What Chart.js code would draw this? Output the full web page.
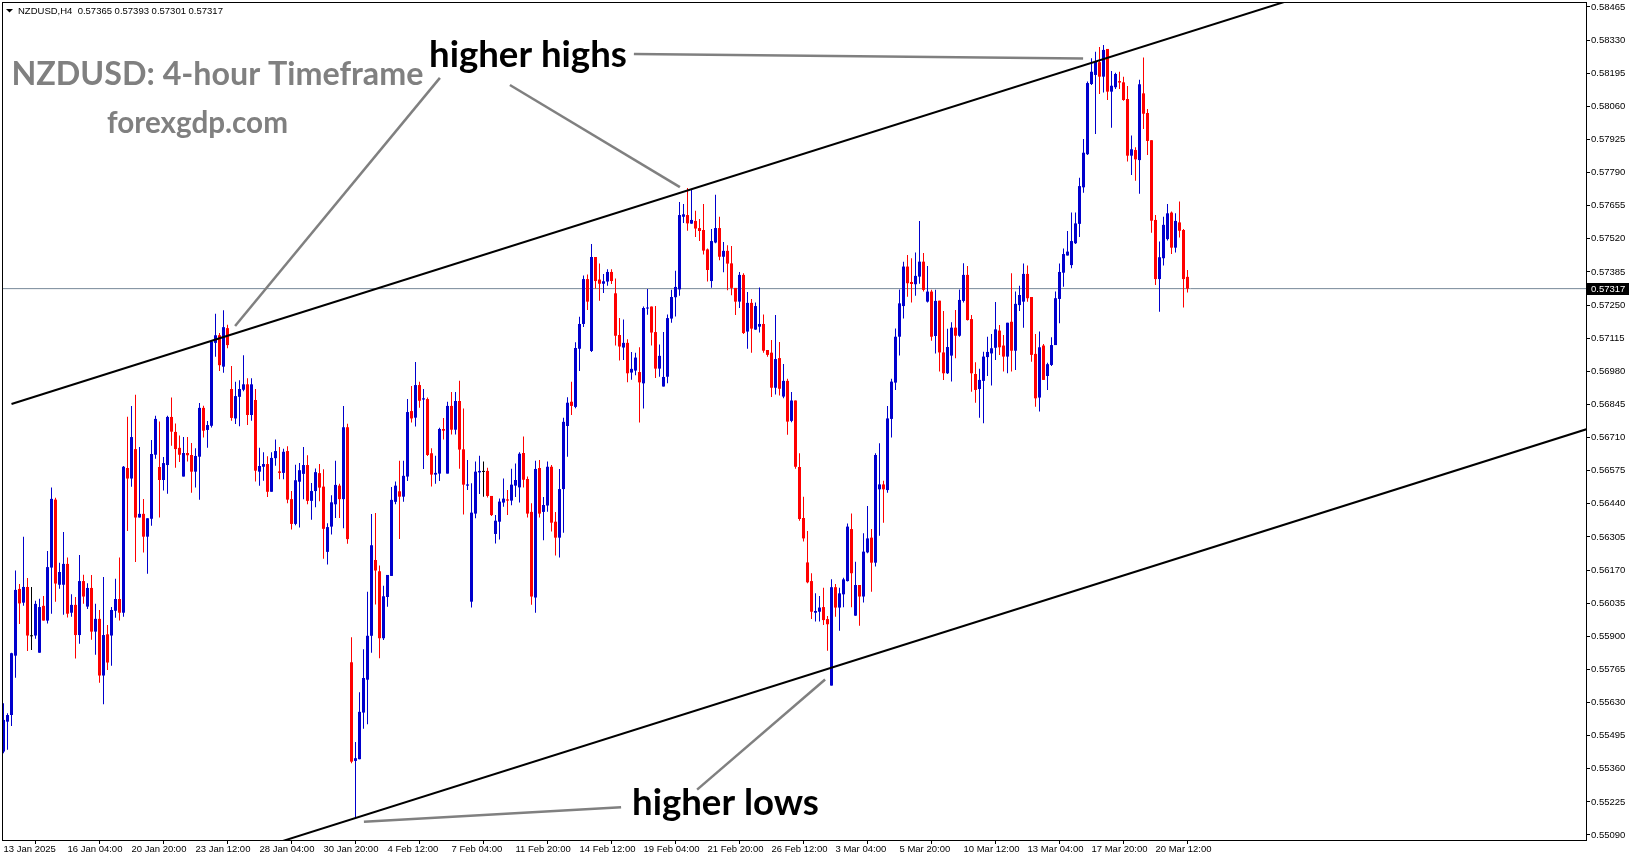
<!DOCTYPE html>
<html>
<head>
<meta charset="utf-8">
<title>NZDUSD H4</title>
<script src="https://cdn.jsdelivr.net/npm/chart.js@4.4.1/dist/chart.umd.min.js"></script>
<style>
  html, body { margin: 0; padding: 0; background: #fff; overflow: hidden; }
  #wrap { width: 1631px; height: 861px; }
</style>
</head>
<body>
<div id="wrap"><canvas id="chart" width="1631" height="861"></canvas></div>
<script>
// NZDUSD H4 candles, 13 Jan 2025 12:00 .. 21 Mar 2025 20:00
const opens = [
  0.55430,0.55552,0.55579,0.55821,0.56093,0.56037,0.56101,0.55900,0.55903,0.55833,
  0.56024,0.55964,0.56180,0.56457,0.56110,0.56110,0.56195,0.55996,0.56028,0.55905,
  0.56125,0.56021,0.56097,0.55919,0.55971,0.55740,0.55908,0.55903,0.56004,0.56052,
  0.55996,0.56586,0.56543,0.56663,0.56384,0.56399,0.56306,0.56379,0.56640,0.56590,
  0.56537,0.56598,0.56794,0.56733,0.56668,0.56551,0.56647,0.56639,0.56571,0.56632,
  0.56831,0.56741,0.56758,0.57096,0.57127,0.56999,0.57156,0.56908,0.56788,0.56876,
  0.56905,0.56927,0.56802,0.56863,0.56571,0.56591,0.56602,0.56489,0.56626,0.56572,
  0.56566,0.56655,0.56459,0.56358,0.56530,0.56562,0.56598,0.56452,0.56492,0.56565,
  0.56510,0.56244,0.56347,0.56438,0.56514,0.56459,0.56752,0.55794,0.55392,0.55399,
  0.55589,0.55723,0.55902,0.56211,0.56165,0.55892,0.56060,0.56146,0.56448,0.56491,
  0.56469,0.56551,0.56818,0.56791,0.56924,0.56865,0.56867,0.56646,0.56559,0.56563,
  0.56745,0.56563,0.56839,0.56742,0.56859,0.56662,0.56514,0.56041,0.56400,0.56568,
  0.56570,0.56574,0.56472,0.56317,0.56367,0.56445,0.56458,0.56453,0.56514,0.56507,
  0.56647,0.56541,0.56407,0.56058,0.56586,0.56407,0.56433,0.56591,0.56367,0.56302,
  0.56500,0.56757,0.56856,0.56835,0.57072,0.57173,0.57356,0.57063,0.57446,0.57354,
  0.57337,0.57346,0.57385,0.57298,0.57128,0.57077,0.57096,0.56975,0.56983,0.56977,
  0.56931,0.57236,0.57244,0.57140,0.56991,0.56918,0.56958,0.57195,0.57282,0.57314,
  0.57610,0.57617,0.57582,0.57593,0.57564,0.57556,0.57477,0.57348,0.57505,0.57564,
  0.57447,0.57471,0.57420,0.57320,0.57264,0.57373,0.57142,0.57259,0.57150,0.57162,
  0.57173,0.57067,0.57056,0.56913,0.57034,0.56877,0.56941,0.56778,0.56861,0.56590,
  0.56382,0.56201,0.56125,0.55996,0.56000,0.56019,0.55970,0.55699,0.56100,0.56017,
  0.56071,0.56125,0.56337,0.55984,0.56109,0.56062,0.56242,0.56302,0.56200,0.56499,
  0.56519,0.56496,0.56786,0.56934,0.57121,0.57246,0.57407,0.57344,0.57335,0.57366,
  0.57427,0.57264,0.57305,0.57124,0.57268,0.57057,0.56972,0.57044,0.57158,0.57125,
  0.57267,0.57373,0.57193,0.56969,0.56908,0.56941,0.57038,0.57053,0.57076,0.57146,
  0.57085,0.57040,0.57182,0.57064,0.57250,0.57264,0.57377,0.57283,0.57051,0.56873,
  0.57085,0.56961,0.57006,0.57087,0.57275,0.57382,0.57452,0.57413,0.57502,0.57581,
  0.57730,0.57865,0.58151,0.58188,0.58240,0.58181,0.58294,0.58120,0.58138,0.58163,
  0.58158,0.58090,0.57859,0.57882,0.57841,0.58113,0.58033,0.57922,0.57597,0.57356,
  0.57441,0.57519,0.57627,0.57484,0.57587,0.57556,0.57365
];
const highs = [
  0.55627,0.55586,0.55833,0.56168,0.56113,0.56306,0.56138,0.56101,0.56045,0.56053,
  0.56064,0.56248,0.56506,0.56465,0.56200,0.56325,0.56221,0.56071,0.56060,0.56231,
  0.56151,0.56116,0.56150,0.56033,0.56007,0.56142,0.55946,0.56019,0.56134,0.56221,
  0.56594,0.56795,0.56839,0.56884,0.56672,0.56460,0.56381,0.56700,0.56799,0.56775,
  0.56631,0.56799,0.56873,0.56767,0.56718,0.56712,0.56712,0.56688,0.56666,0.56851,
  0.56840,0.56777,0.57106,0.57215,0.57136,0.57229,0.57170,0.57002,0.56937,0.56944,
  0.57046,0.56952,0.56952,0.56908,0.56668,0.56650,0.56634,0.56650,0.56702,0.56671,
  0.56664,0.56675,0.56492,0.56599,0.56606,0.56671,0.56638,0.56525,0.56584,0.56602,
  0.56581,0.56361,0.56475,0.56615,0.56522,0.56839,0.56766,0.55896,0.55469,0.55672,
  0.55847,0.56081,0.56398,0.56402,0.56189,0.56106,0.56150,0.56508,0.56531,0.56615,
  0.56615,0.56867,0.56920,0.57018,0.56937,0.56908,0.56873,0.56666,0.56636,0.56750,
  0.56790,0.56856,0.56896,0.56896,0.56942,0.56828,0.56619,0.56524,0.56612,0.56636,
  0.56612,0.56587,0.56472,0.56394,0.56462,0.56543,0.56496,0.56583,0.56604,0.56650,
  0.56714,0.56551,0.56442,0.56615,0.56619,0.56468,0.56612,0.56598,0.56407,0.56582,
  0.56791,0.56874,0.56937,0.57098,0.57202,0.57371,0.57375,0.57499,0.57446,0.57419,
  0.57377,0.57396,0.57396,0.57358,0.57197,0.57191,0.57111,0.57059,0.57056,0.57078,
  0.57244,0.57316,0.57244,0.57246,0.57089,0.57140,0.57212,0.57312,0.57390,0.57670,
  0.57662,0.57727,0.57723,0.57634,0.57601,0.57662,0.57481,0.57560,0.57700,0.57610,
  0.57507,0.57494,0.57491,0.57320,0.57385,0.57380,0.57303,0.57275,0.57260,0.57322,
  0.57212,0.57067,0.57108,0.57210,0.57100,0.57010,0.56950,0.56896,0.56861,0.56646,
  0.56469,0.56329,0.56157,0.56075,0.56064,0.56098,0.55983,0.56132,0.56113,0.56098,
  0.56139,0.56360,0.56400,0.56204,0.56109,0.56320,0.56431,0.56337,0.56646,0.56687,
  0.56534,0.56839,0.56950,0.57155,0.57314,0.57427,0.57454,0.57441,0.57464,0.57593,
  0.57462,0.57409,0.57312,0.57312,0.57268,0.57226,0.57153,0.57180,0.57230,0.57314,
  0.57420,0.57409,0.57210,0.57017,0.56990,0.57060,0.57121,0.57132,0.57263,0.57169,
  0.57128,0.57178,0.57380,0.57305,0.57329,0.57419,0.57411,0.57283,0.57132,0.57142,
  0.57091,0.57015,0.57119,0.57305,0.57419,0.57481,0.57552,0.57627,0.57627,0.57769,
  0.57927,0.58161,0.58256,0.58283,0.58302,0.58310,0.58294,0.58204,0.58197,0.58201,
  0.58181,0.58143,0.57941,0.57893,0.58168,0.58259,0.58049,0.57922,0.57617,0.57509,
  0.57610,0.57662,0.57631,0.57624,0.57672,0.57560,0.57393
];
const lows = [
  0.55423,0.55437,0.55534,0.55731,0.55950,0.56024,0.55840,0.55844,0.55890,0.55833,
  0.55964,0.55952,0.55992,0.56041,0.56094,0.55988,0.55977,0.55980,0.55809,0.55870,
  0.56033,0.56011,0.55886,0.55825,0.55711,0.55623,0.55763,0.55780,0.55976,0.55964,
  0.55980,0.56329,0.56509,0.56203,0.56384,0.56241,0.56155,0.56351,0.56624,0.56384,
  0.56494,0.56481,0.56677,0.56587,0.56610,0.56551,0.56612,0.56485,0.56506,0.56457,
  0.56710,0.56668,0.56751,0.57039,0.56981,0.56974,0.57074,0.56779,0.56765,0.56756,
  0.56899,0.56761,0.56779,0.56531,0.56514,0.56534,0.56468,0.56489,0.56595,0.56540,
  0.56540,0.56442,0.56335,0.56353,0.56343,0.56459,0.56438,0.56375,0.56426,0.56450,
  0.56216,0.56193,0.56315,0.56382,0.56382,0.56340,0.56277,0.55382,0.55162,0.55399,
  0.55523,0.55541,0.55833,0.56030,0.55810,0.55885,0.56020,0.56146,0.56438,0.56297,
  0.56448,0.56533,0.56771,0.56755,0.56832,0.56582,0.56635,0.56510,0.56522,0.56533,
  0.56702,0.56563,0.56722,0.56722,0.56583,0.56396,0.56496,0.56017,0.56381,0.56480,
  0.56469,0.56466,0.56390,0.56278,0.56294,0.56428,0.56394,0.56434,0.56468,0.56445,
  0.56506,0.56384,0.56028,0.55996,0.56384,0.56291,0.56408,0.56327,0.56229,0.56221,
  0.56322,0.56632,0.56802,0.56829,0.56981,0.57161,0.57230,0.57059,0.57318,0.57268,
  0.57299,0.57329,0.57336,0.57085,0.57024,0.57026,0.56935,0.56946,0.56964,0.56771,
  0.56828,0.57211,0.57085,0.56953,0.56958,0.56918,0.56931,0.57178,0.57203,0.57288,
  0.57585,0.57553,0.57582,0.57528,0.57511,0.57456,0.57346,0.57321,0.57502,0.57433,
  0.57384,0.57310,0.57290,0.57210,0.57238,0.57132,0.57072,0.57056,0.57149,0.57138,
  0.57056,0.57039,0.56875,0.56885,0.56881,0.56870,0.56721,0.56772,0.56583,0.56371,
  0.56286,0.56116,0.55970,0.55960,0.55960,0.55946,0.55841,0.55699,0.55980,0.55923,
  0.56018,0.56123,0.56018,0.55984,0.55943,0.56038,0.56238,0.56082,0.56184,0.56310,
  0.56363,0.56485,0.56710,0.56904,0.57044,0.57195,0.57284,0.57260,0.57288,0.57337,
  0.57305,0.57260,0.57105,0.57053,0.56979,0.56945,0.56969,0.56938,0.57033,0.57121,
  0.57261,0.57187,0.56897,0.56852,0.56791,0.56768,0.56961,0.56922,0.57026,0.57047,
  0.56979,0.56972,0.56979,0.56985,0.57226,0.57158,0.57264,0.57019,0.56836,0.56816,
  0.56945,0.56904,0.57002,0.57087,0.57176,0.57325,0.57452,0.57400,0.57499,0.57528,
  0.57708,0.57862,0.58147,0.57947,0.58110,0.58116,0.58086,0.57973,0.58131,0.58131,
  0.58083,0.57835,0.57780,0.57757,0.57704,0.57968,0.57862,0.57545,0.57332,0.57223,
  0.57411,0.57513,0.57458,0.57464,0.57525,0.57240,0.57301
];
const closes = [
  0.55559,0.55579,0.55831,0.56089,0.56034,0.56101,0.55903,0.55900,0.56032,0.56019,
  0.55964,0.56182,0.56460,0.56115,0.56162,0.56195,0.55992,0.56028,0.55905,0.56125,
  0.56062,0.56097,0.55919,0.55971,0.55740,0.55905,0.55793,0.56007,0.56052,0.55996,
  0.56591,0.56543,0.56712,0.56384,0.56399,0.56306,0.56381,0.56643,0.56786,0.56537,
  0.56606,0.56794,0.56734,0.56663,0.56640,0.56647,0.56638,0.56571,0.56635,0.56831,
  0.56738,0.56761,0.57102,0.57127,0.57005,0.57160,0.57087,0.56790,0.56879,0.56908,
  0.56927,0.56802,0.56927,0.56575,0.56594,0.56602,0.56489,0.56627,0.56655,0.56566,
  0.56652,0.56457,0.56358,0.56536,0.56577,0.56598,0.56452,0.56492,0.56569,0.56506,
  0.56338,0.56345,0.56446,0.56517,0.56459,0.56752,0.56296,0.55389,0.55403,0.55592,
  0.55730,0.55902,0.56271,0.56168,0.55892,0.56063,0.56150,0.56456,0.56514,0.56469,
  0.56554,0.56814,0.56788,0.56924,0.56860,0.56870,0.56639,0.56559,0.56566,0.56745,
  0.56738,0.56839,0.56742,0.56859,0.56661,0.56518,0.56519,0.56404,0.56571,0.56574,
  0.56570,0.56472,0.56394,0.56371,0.56449,0.56461,0.56453,0.56518,0.56537,0.56644,
  0.56538,0.56400,0.56062,0.56582,0.56400,0.56435,0.56591,0.56363,0.56302,0.56500,
  0.56774,0.56852,0.56839,0.57075,0.57173,0.57356,0.57264,0.57446,0.57348,0.57337,
  0.57347,0.57385,0.57348,0.57125,0.57081,0.57096,0.56972,0.56990,0.57036,0.56935,
  0.57238,0.57238,0.57138,0.56991,0.57043,0.56957,0.57197,0.57283,0.57324,0.57617,
  0.57620,0.57583,0.57597,0.57562,0.57552,0.57472,0.57393,0.57511,0.57564,0.57447,
  0.57471,0.57419,0.57320,0.57264,0.57373,0.57136,0.57259,0.57154,0.57246,0.57173,
  0.57064,0.57047,0.56913,0.57030,0.56909,0.56941,0.56775,0.56861,0.56591,0.56378,
  0.56299,0.56120,0.56000,0.56003,0.56017,0.55966,0.55949,0.56100,0.56017,0.56075,
  0.56132,0.56347,0.56157,0.56109,0.56062,0.56245,0.56299,0.56200,0.56639,0.56519,
  0.56499,0.56788,0.56938,0.57121,0.57257,0.57407,0.57339,0.57336,0.57369,0.57427,
  0.57312,0.57305,0.57121,0.57267,0.57057,0.56972,0.57079,0.57158,0.57125,0.57271,
  0.57373,0.57189,0.56972,0.56904,0.56945,0.57040,0.57059,0.57074,0.57151,0.57078,
  0.57040,0.57178,0.57064,0.57255,0.57291,0.57377,0.57278,0.57047,0.56870,0.57078,
  0.56945,0.57009,0.57087,0.57278,0.57385,0.57458,0.57468,0.57511,0.57583,0.57735,
  0.57871,0.58155,0.58201,0.58242,0.58181,0.58290,0.58120,0.58144,0.58192,0.58157,
  0.58086,0.57859,0.57885,0.57844,0.58150,0.58030,0.57919,0.57594,0.57356,0.57445,
  0.57577,0.57624,0.57484,0.57593,0.57553,0.57356,0.57317
];

// time axis labels (one every 16 bars) and price axis ticks
const timeTickBars = [0,16,32,48,64,80,96,112,128,144,160,176,192,208,224,240,256,272,288];
const timeTickLabels = ['13 Jan 2025','16 Jan 04:00','20 Jan 20:00','23 Jan 12:00','28 Jan 04:00',
  '30 Jan 20:00','4 Feb 12:00','7 Feb 04:00','11 Feb 20:00','14 Feb 12:00','19 Feb 04:00',
  '21 Feb 20:00','26 Feb 12:00','3 Mar 04:00','5 Mar 20:00','10 Mar 12:00','13 Mar 04:00',
  '17 Mar 20:00','20 Mar 12:00'];
const priceTicks = [0.58465,0.58330,0.58195,0.58060,0.57925,0.57790,0.57655,0.57520,0.57385,
  0.57250,0.57115,0.56980,0.56845,0.56710,0.56575,0.56440,0.56305,0.56170,0.56035,0.55900,
  0.55765,0.55630,0.55495,0.55360,0.55225,0.55090];

// drawn objects: [bar index, price] end points
const upperChannel = [[2, 0.56847], [330, 0.58536]];
const lowerChannel = [[60, 0.55015], [400, 0.56766]];
const pointers = [
  [[109.1, 0.58176], [57.9, 0.57165]],
  [[126.6, 0.58147], [169.1, 0.57731]],
  [[157.6, 0.58273], [269.9, 0.58255]],
  [[90.1, 0.55144], [154.4, 0.55203]],
  [[173.4, 0.55275], [205.4, 0.55724]]
];

const BULL = '#0000CD', BEAR = '#FF0000', DOJI = '#000000';
const candleColors = closes.map((c, i) => c > opens[i] ? BULL : (c < opens[i] ? BEAR : DOJI));
const last = closes.length - 1;

function lineSet(pts, color, width) {
  return {
    type: 'line',
    data: pts.map(p => ({ x: p[0], y: p[1] })),
    borderColor: color, borderWidth: width,
    pointRadius: 0, tension: 0, fill: false, clip: 0, order: 0
  };
}

function fitText(ctx, text, x, baseline, width, color) {
  ctx.font = 'bold 100px Lato';
  const size = 100 * width / ctx.measureText(text).width;
  ctx.font = 'bold ' + size.toFixed(2) + 'px Lato';
  ctx.fillStyle = color;
  ctx.textAlign = 'left';
  ctx.textBaseline = 'alphabetic';
  ctx.fillText(text, x, baseline);
}

const overlay = {
  id: 'overlay',
  afterDraw(chart) {
    const { ctx, chartArea: a, scales: { y } } = chart;
    ctx.save();
    ctx.strokeStyle = '#000';
    ctx.lineWidth = 1;
    ctx.strokeRect(a.left + 0.5, a.top - 0.5, a.right - a.left, a.bottom - a.top + 1);

    // header
    ctx.fillStyle = '#000';
    ctx.beginPath();
    ctx.moveTo(6, 9); ctx.lineTo(13, 9); ctx.lineTo(9.5, 12.5); ctx.closePath(); ctx.fill();
    ctx.font = '9.5px "Liberation Sans"';
    ctx.textBaseline = 'middle';
    ctx.fillText('NZDUSD,H4  ' + [opens[last], highs[last], lows[last], closes[last]]
      .map(v => v.toFixed(5)).join(' '), 18, 11);

    // current price tag
    const py = Math.round(y.getPixelForValue(closes[last]));
    ctx.fillRect(a.right, py - 6, 43, 12);
    ctx.fillStyle = '#fff';
    ctx.fillText(closes[last].toFixed(5), a.right + 5, py + 0.5);

    fitText(ctx, 'NZDUSD: 4-hour Timeframe', 11.5, 85, 412, '#808080');
    fitText(ctx, 'forexgdp.com', 107, 133, 181, '#808080');
    fitText(ctx, 'higher highs', 429, 67, 198, '#000');
    fitText(ctx, 'higher lows', 632, 815, 187, '#000');
    ctx.restore();
  }
};

new Chart(document.getElementById('chart'), {
  type: 'bar',
  data: {
    datasets: [
      lineSet(upperChannel, '#000', 2),
      lineSet(lowerChannel, '#000', 2),
      ...pointers.map(p => lineSet(p, '#808080', 2.5)),
      {
        type: 'bar',
        data: opens.map((o, i) => ({ x: i, y: [o, closes[i]] })),
        backgroundColor: candleColors,
        barThickness: 3, minBarLength: 1, grouped: false,
        borderWidth: 0, inflateAmount: 0, order: 1
      },
      {
        type: 'bar',
        data: lows.map((l, i) => ({ x: i, y: [l, highs[i]] })),
        backgroundColor: candleColors,
        barThickness: 1, grouped: false,
        borderWidth: 0, inflateAmount: 0, order: 2
      },
      {
        type: 'line',
        data: [{ x: -1, y: closes[last] }, { x: 400, y: closes[last] }],
        borderColor: '#778899', borderWidth: 1,
        pointRadius: 0, clip: 0, order: 3
      }
    ]
  },
  options: {
    responsive: false,
    animation: false,
    devicePixelRatio: 1,
    events: [],
    layout: { padding: { left: 2, top: 3, right: 0, bottom: 0 } },
    plugins: { legend: { display: false }, tooltip: { enabled: false } },
    scales: {
      x: {
        type: 'linear',
        min: -0.375, max: 395.625,
        offset: false,
        grid: { drawOnChartArea: false, tickLength: 4, tickColor: '#000', color: '#000' },
        border: { color: '#000', width: 1 },
        afterBuildTicks: s => { s.ticks = timeTickBars.map(v => ({ value: v })); },
        afterFit: s => { s.height = 21; s.paddingLeft = 0; s.paddingRight = 0; },
        ticks: {
          autoSkip: false, maxRotation: 0, align: 'start', padding: 0,
          color: '#000', font: { family: 'Liberation Sans', size: 9.5 },
          callback: (v, i) => timeTickLabels[i]
        }
      },
      y: {
        type: 'linear',
        position: 'right',
        min: 0.550696, max: 0.584813,
        grid: { drawOnChartArea: false, tickLength: 4, tickColor: '#000', color: '#000' },
        border: { color: '#000', width: 1 },
        afterBuildTicks: s => { s.ticks = priceTicks.map(v => ({ value: v })); },
        afterFit: s => { s.width = 45; s.paddingTop = 0; s.paddingBottom = 0; },
        ticks: {
          autoSkip: false, padding: 1,
          color: '#000', font: { family: 'Liberation Sans', size: 9.5 },
          callback: v => v.toFixed(5)
        }
      }
    }
  },
  plugins: [overlay]
});
</script>
</body>
</html>
